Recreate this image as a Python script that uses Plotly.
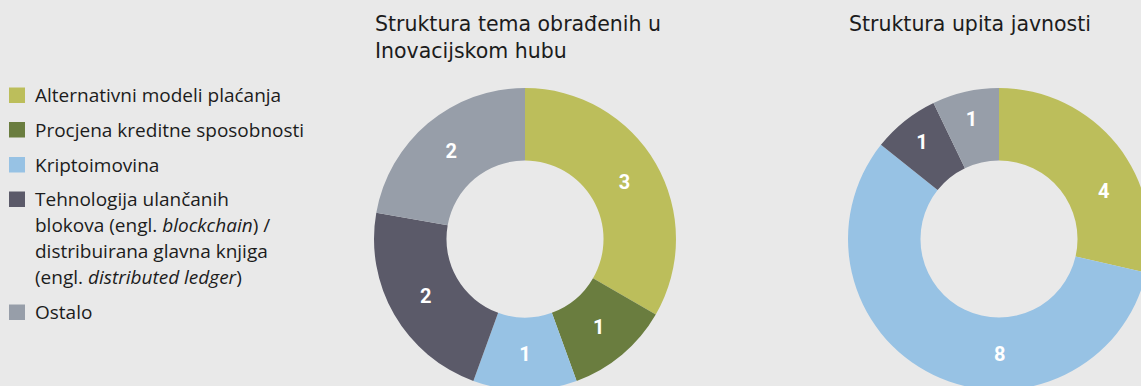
import math
import plotly.graph_objects as go

# Categories shared by both donuts
categories = [
    "Alternativni modeli plaćanja",
    "Procjena kreditne sposobnosti",
    "Kriptoimovina",
    "Tehnologija ulančanih blokova / distribuirana glavna knjiga",
    "Ostalo",
]
colors = ["#bcbe5b", "#6a7d3f", "#97c2e4", "#5b5a69", "#979ea9"]

# Counts per category
topics_hub = [3, 1, 1, 2, 2]
public_queries = [4, 0, 8, 1, 1]

title_hub = ["Struktura tema obrađenih u", "Inovacijskom hubu"]
title_queries = ["Struktura upita javnosti"]

# Legend text lines per category (HTML-style italics for English terms)
legend_lines = [
    ["Alternativni modeli plaćanja"],
    ["Procjena kreditne sposobnosti"],
    ["Kriptoimovina"],
    ["Tehnologija ulančanih",
     "blokova (engl. <i>blockchain</i>) /",
     "distribuirana glavna knjiga",
     "(engl. <i>distributed ledger</i>)"],
    ["Ostalo"],
]

W, H = 1160, 400
BG = "#e9e9e9"
TEXT = "#1c1c1c"
FONT = "Open Sans"
TITLE_FONT = dict(size=20.5, color=TEXT, family="DejaVu Sans")
LABEL_FONT = dict(color="white", size=20, family="Roboto", weight="bold")
HOLE = 0.52


def px(x):
    return x / W


def py(y):
    return 1 - y / H


def donut(values, x0, x1, y0, y1, text):
    return go.Pie(
        labels=categories,
        values=values,
        text=text,
        textinfo="text",
        textposition="inside",
        insidetextorientation="horizontal",
        textfont=LABEL_FONT,
        marker=dict(colors=colors, line=dict(width=0)),
        hole=HOLE,
        sort=False,
        direction="clockwise",
        rotation=0,
        showlegend=False,
        hoverinfo="label+value",
        domain=dict(x=[px(x0), px(x1)], y=[py(y1), py(y0)]),
    )


# Donut geometry (pixels): centre and outer radius
left_c, right_c, R = (525, 239), (999, 239), 151

fig = go.Figure()
fig.add_trace(donut(topics_hub, left_c[0] - R, left_c[0] + R, left_c[1] - R, left_c[1] + R,
                    [str(v) for v in topics_hub]))

# On the right donut the two large slices run past the right edge, so their
# labels are placed manually at a chosen angle (degrees clockwise from top).
manual_angle = [65, None, 180, None, None]
right_text = [str(v) if (v and manual_angle[i] is None) else "" for i, v in enumerate(public_queries)]
fig.add_trace(donut(public_queries, right_c[0] - R, right_c[0] + R, right_c[1] - R, right_c[1] + R,
                    right_text))

annotations = []
shapes = []

mid_r = R * (1 + HOLE) / 2
for v, ang in zip(public_queries, manual_angle):
    if ang is None or not v:
        continue
    a = math.radians(ang)
    annotations.append(dict(x=px(right_c[0] + mid_r * math.sin(a)),
                            y=py(right_c[1] - mid_r * math.cos(a)),
                            text=str(v), xanchor="center", yanchor="middle", font=LABEL_FONT))

# Chart titles (multi-line titles in a single text block)
annotations.append(dict(x=px(373), y=py(10), text="<br>".join(title_hub), xanchor="left",
                        yanchor="top", align="left", font=TITLE_FONT))
annotations.append(dict(x=px(847), y=py(10), text="<br>".join(title_queries), xanchor="left",
                        yanchor="top", align="left", font=TITLE_FONT))

# Custom legend: square swatch + text lines
item_centers = [95, 129.5, 164.5, 199, 312]
for color, lines, cy in zip(colors, legend_lines, item_centers):
    shapes.append(dict(type="rect", xref="paper", yref="paper",
                       x0=px(9), x1=px(25), y0=py(cy + 8), y1=py(cy - 7.5),
                       fillcolor=color, line=dict(width=0)))
    for j, line in enumerate(lines):
        annotations.append(dict(x=px(33), y=py(cy + 26 * j), text=line, xanchor="left",
                                yanchor="middle", font=dict(size=19, color=TEXT, family=FONT)))

for a in annotations:
    a.update(xref="paper", yref="paper", showarrow=False)

fig.update_layout(
    width=W, height=H,
    margin=dict(l=0, r=0, t=0, b=0),
    paper_bgcolor=BG, plot_bgcolor=BG,
    annotations=annotations, shapes=shapes,
)

fig.write_html(
    "out.html",
    post_script="document.body.style.margin='0';document.body.style.overflow='hidden';"
                "document.documentElement.style.overflow='hidden';document.body.style.background='" + BG + "';",
)
